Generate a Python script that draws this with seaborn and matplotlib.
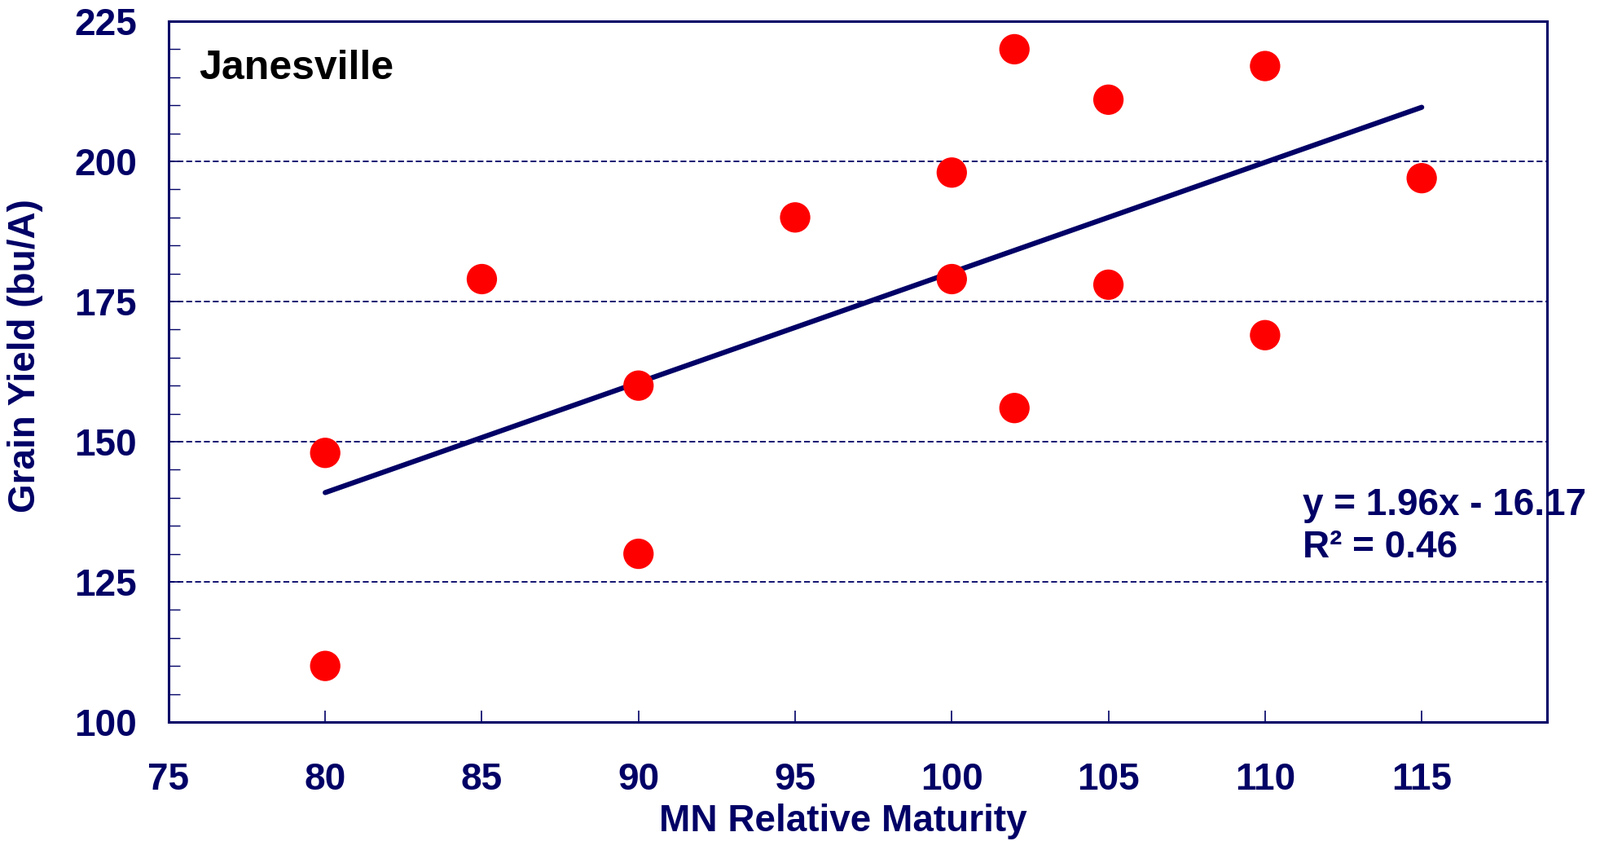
import numpy as np
import pandas as pd
import matplotlib
matplotlib.use("Agg")
import matplotlib.pyplot as plt
from matplotlib.ticker import MultipleLocator
import seaborn as sns

# Data
maturity = [80, 80, 85, 90, 90, 95, 100, 100, 102, 102, 105, 105, 110, 110, 115]
grain_yield = [148, 110, 179, 160, 130, 190, 198, 179, 220, 156, 211, 178, 217, 169, 197]
x_ticks = [75, 80, 85, 90, 95, 100, 105, 110, 115]
y_ticks = [100, 125, 150, 175, 200, 225]
equation_line = "y = 1.96x - 16.17"
r2_line = "R\u00b2 = 0.46"
site_label = "Janesville"

NAVY = "#000066"

sns.set_theme(style="white")
plt.rcParams["font.family"] = ["Liberation Sans", "DejaVu Sans"]
plt.rcParams["font.weight"] = "bold"

df = pd.DataFrame({"RM": maturity, "Yield": grain_yield})

fig = plt.figure(figsize=(19.65, 10.32), dpi=100)
ax = fig.add_axes([0.1053, 0.1415, 0.9664 - 0.1053, 0.9748 - 0.1415])

# gridlines
for yv in y_ticks[1:-1]:
    ax.axhline(yv, color=NAVY, lw=1.3, ls=(0, (4, 2)), zorder=1)

sns.regplot(data=df, x="RM", y="Yield", ax=ax, ci=None, truncate=True,
            scatter=False, line_kws=dict(color=NAVY, lw=4.5, zorder=2))
sns.scatterplot(data=df, x="RM", y="Yield", ax=ax, color="#FF0000", s=720,
                edgecolor="none", zorder=3)

ax.set_xlim(75, 119)
ax.set_ylim(100, 225)
ax.set_xticks(x_ticks)
ax.set_yticks(y_ticks)
ax.yaxis.set_minor_locator(MultipleLocator(5))

ax.tick_params(axis="x", which="major", direction="in", length=10, width=1.2,
               color=NAVY, labelsize=33, labelcolor=NAVY, pad=35, bottom=True)
ax.tick_params(axis="y", which="major", direction="in", length=10, width=1.2,
               color=NAVY, labelsize=33, labelcolor=NAVY, pad=28, left=True)
ax.tick_params(axis="y", which="minor", direction="in", length=10, width=1.0,
               color=NAVY, left=True)
for lab in ax.get_xticklabels() + ax.get_yticklabels():
    lab.set_fontweight("bold")

for sp in ax.spines.values():
    sp.set_color(NAVY)
    sp.set_linewidth(2.2)
    sp.set_visible(True)

ax.set_xlabel("MN Relative Maturity", fontsize=33, fontweight="bold", color=NAVY)
ax.set_ylabel("Grain Yield (bu/A)", fontsize=33, fontweight="bold", color=NAVY)
ax.xaxis.set_label_coords(0.489, -0.1165)
ax.yaxis.set_label_coords(-0.091, 0.523)

ax.text(0.022, 0.933, site_label, transform=ax.transAxes, fontsize=36,
        fontweight="bold", color="black", va="center", ha="left")
ax.text(1599 / 1965, 1 - 632 / 1032, equation_line, transform=fig.transFigure,
        fontsize=33, fontweight="bold", color=NAVY, ha="left", va="baseline",
        clip_on=False)
ax.text(1599 / 1965, 1 - 684 / 1032, r2_line, transform=fig.transFigure,
        fontsize=33, fontweight="bold", color=NAVY, ha="left", va="baseline",
        clip_on=False)

fig.savefig("out.png", dpi=100)
